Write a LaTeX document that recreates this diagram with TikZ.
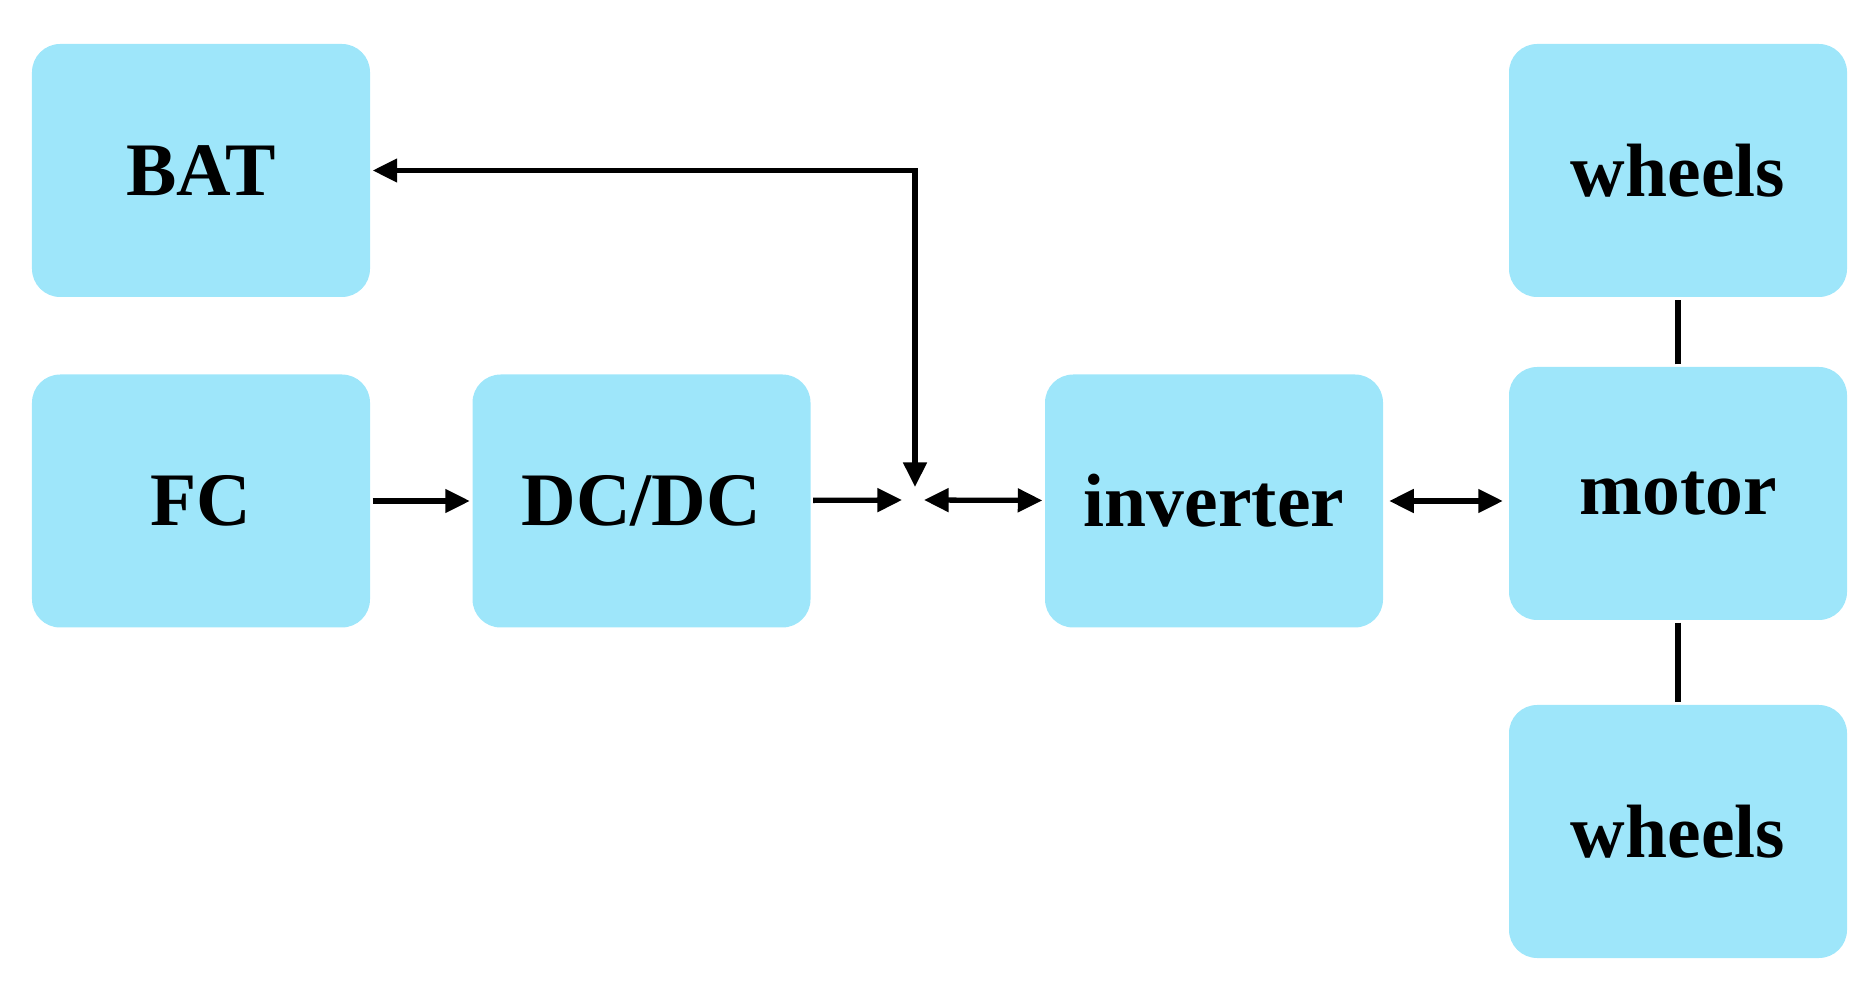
\documentclass[tikz,border=0pt]{standalone}
\usepackage{fontspec}
\setmainfont{Liberation Serif}
\usetikzlibrary{arrows.meta}
\definecolor{boxblue}{RGB}{158,230,250}
\def\boxw{3.38cm}
\def\boxh{2.53cm}

\begin{document}
\begin{tikzpicture}[>={Triangle[length=7pt,width=6.5pt]}, line width=1.5pt]
    \tikzstyle{block}=[rectangle, fill=boxblue, rounded corners=8pt, minimum width=\boxw, minimum height=\boxh, font=\fontsize{21.5}{24}\selectfont\bfseries]
    \tikzstyle{link}=[draw=black]

    \useasboundingbox (0,0) rectangle (18.71,9.90);

    % Draw the source blocks
    \node[block] (BAT) at (2.01,8.195) {BAT};
    \node[block] (FC) at (2.01,4.89) {FC};
    \node[block] (DC) at (6.415,4.89) {DC/DC};

    % Draw the drive blocks
    \node[block] (INV) at (12.14,4.89) {inverter};
    \node[block] (M) at (16.78,4.965) {motor};
    \node[block] (W-1) at (16.78,8.195) {wheels};
    \node[block] (W-2) at (16.78,1.585) {wheels};

    % Junction of the DC bus
    \coordinate (J) at (9.15,4.90);

    % Connect the blocks
    \path[link,->] (FC) -- (DC);
    \path[link,->,shorten >=0.13cm] (DC) -- (J);
    \path[link,<->,shorten >=0.13cm] (BAT.east) -- (BAT.east -| J) -- (J);
    \path[link,<->,shorten <=0.09cm] (J) -- (INV);
    \path[link,<->,shorten <=1pt,shorten >=1pt] (INV.east) -- (INV.east -| M.west);
    \path[draw] (M) -- (W-1);
    \path[draw] (M) -- (W-2);
\end{tikzpicture}
\end{document}
